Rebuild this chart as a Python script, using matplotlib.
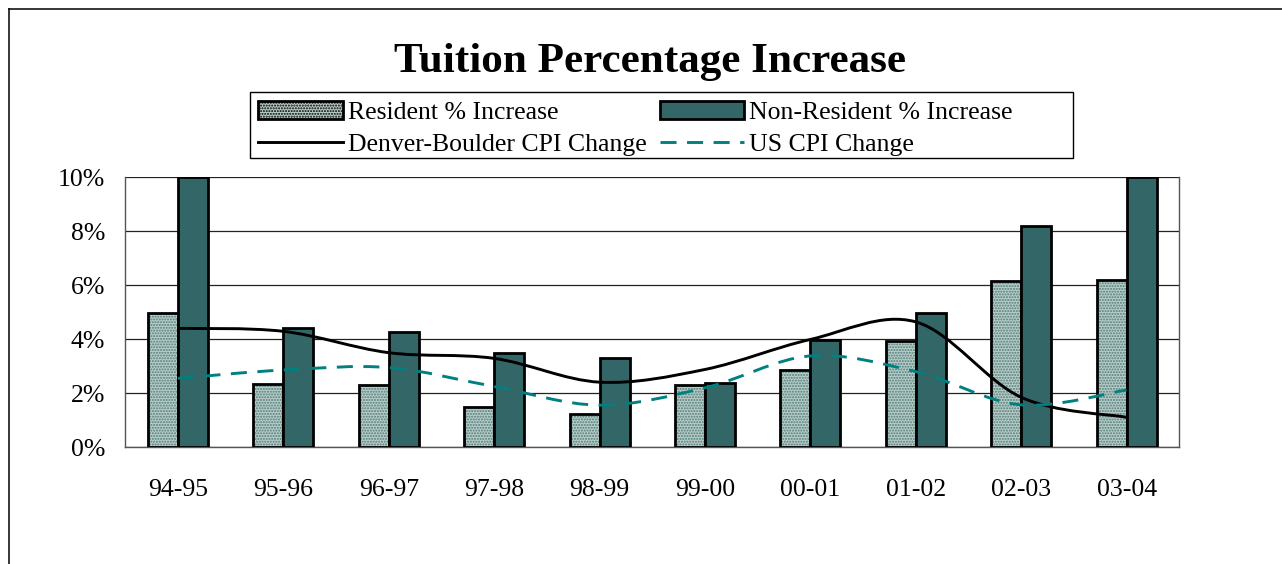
import matplotlib
matplotlib.use("Agg")
import matplotlib.pyplot as plt
import numpy as np
from matplotlib.path import Path
from matplotlib.patches import PathPatch, Rectangle, Patch
from matplotlib.lines import Line2D

plt.rcParams['font.family'] = ['Liberation Serif', 'DejaVu Serif']
plt.rcParams['hatch.linewidth'] = 1.0

categories = ["94-95", "95-96", "96-97", "97-98", "98-99",
              "99-00", "00-01", "01-02", "02-03", "03-04"]
resident = [4.97, 2.36, 2.30, 1.50, 1.24, 2.31, 2.86, 3.93, 6.14, 6.20]
non_resident = [10.0, 4.40, 4.27, 3.50, 3.29, 2.39, 3.97, 4.97, 8.17, 10.0]
denver_cpi = [4.40, 4.29, 3.50, 3.29, 2.41, 2.88, 3.99, 4.64, 1.85, 1.11]
us_cpi = [2.55, 2.86, 2.95, 2.25, 1.56, 2.20, 3.38, 2.80, 1.57, 2.12]
yticks = [0, 2, 4, 6, 8, 10]
ytick_labels = ["0%", "2%", "4%", "6%", "8%", "10%"]

W, H = 1282, 564
fig = plt.figure(figsize=(W / 100, H / 100), dpi=100)
fig.patch.set_facecolor("white")

ax = fig.add_axes([125.3 / W, 1 - 447.3 / H, 1054 / W, 270.3 / H])

x = np.arange(len(categories))
bw = 0.285
teal_dark = "#336666"
res_face = "#b9cdc9"
res_hatch = "#4f7c78"

# resident bars: dotted light fill
ax.bar(x - bw / 2, resident, bw, color=res_face, edgecolor=res_hatch,
       hatch="......", linewidth=0, zorder=2)
ax.bar(x - bw / 2, resident, bw, facecolor="none", edgecolor="black",
       linewidth=2.0, zorder=3)
ax.bar(x + bw / 2, non_resident, bw, color=teal_dark, edgecolor="black",
       linewidth=2.0, zorder=3)


def smooth_path(xs, ys):
    pts = np.column_stack([xs, ys]).astype(float)
    n = len(pts)
    verts = [pts[0]]
    codes = [Path.MOVETO]
    for i in range(n - 1):
        p0 = pts[i - 1] if i > 0 else pts[i]
        p1 = pts[i]
        p2 = pts[i + 1]
        p3 = pts[i + 2] if i + 2 < n else pts[i + 1]
        c1 = p1 + (p2 - p0) / 6.0
        c2 = p2 - (p3 - p1) / 6.0
        verts += [c1, c2, p2]
        codes += [Path.CURVE4] * 3
    return Path(verts, codes)


line_w = 2.1
dash = (0, (5.5, 3.6))
ax.add_patch(PathPatch(smooth_path(x, denver_cpi), facecolor="none",
                       edgecolor="black", linewidth=line_w, zorder=4,
                       capstyle="butt"))
ax.add_patch(PathPatch(smooth_path(x, us_cpi), facecolor="none",
                       edgecolor="#008080", linewidth=line_w, zorder=4,
                       linestyle=dash, capstyle="butt"))

ax.set_xlim(-0.5, len(categories) - 0.5)
ax.set_ylim(0, 10)
ax.set_yticks(yticks)
ax.set_yticklabels(ytick_labels)
ax.set_xticks(x)
ax.set_xticklabels(categories)
ax.tick_params(axis="y", length=0, pad=14.6, labelsize=18.5)
ax.tick_params(axis="x", length=0, pad=22.5, labelsize=18.5)
ax.yaxis.grid(True, color="#222222", linewidth=0.9, zorder=0)
ax.set_axisbelow(True)
for s in ["left", "right", "bottom"]:
    ax.spines[s].set_color("#555555")
    ax.spines[s].set_linewidth(1.0)
ax.spines["top"].set_visible(False)

# Title
fig.text(650.5 / W, 1 - 72 / H, "Tuition Percentage Increase",
         ha="center", va="baseline", fontsize=31.1, fontweight="bold")

# Outer chart frame (left and top edges)
fig.add_artist(Line2D([9 / W, 9 / W], [0, 1 - 9 / H], color="black",
                      linewidth=1.1, transform=fig.transFigure))
fig.add_artist(Line2D([9 / W, 1], [1 - 9 / H, 1 - 9 / H], color="black",
                      linewidth=1.1, transform=fig.transFigure))

# Legend
h_res = Patch(facecolor=res_face, edgecolor="black", linewidth=2.0,
              hatch="......")
h_non = Patch(facecolor=teal_dark, edgecolor="black", linewidth=2.0)
h_den = Line2D([], [], color="black", linewidth=line_w)
h_us = Line2D([], [], color="#008080", linewidth=line_w, linestyle=dash)
leg = fig.legend([h_res, h_den, h_non, h_us],
                 ["Resident % Increase", "Denver-Boulder CPI Change",
                  "Non-Resident % Increase", "US CPI Change"],
                 ncol=2, loc="upper left",
                 bbox_to_anchor=(258 / W, 1 - 101 / H),
                 frameon=False, fontsize=18.5, handlelength=3.3,
                 handleheight=0.72, handletextpad=0.2, columnspacing=0.5,
                 labelspacing=0.34, borderpad=0, borderaxespad=0)
fig.add_artist(Rectangle((250 / W, 1 - 158 / H), 823 / W, 66 / H,
                         transform=fig.transFigure, facecolor="none",
                         edgecolor="black", linewidth=1.0))

fig.savefig("out.png", dpi=100)
